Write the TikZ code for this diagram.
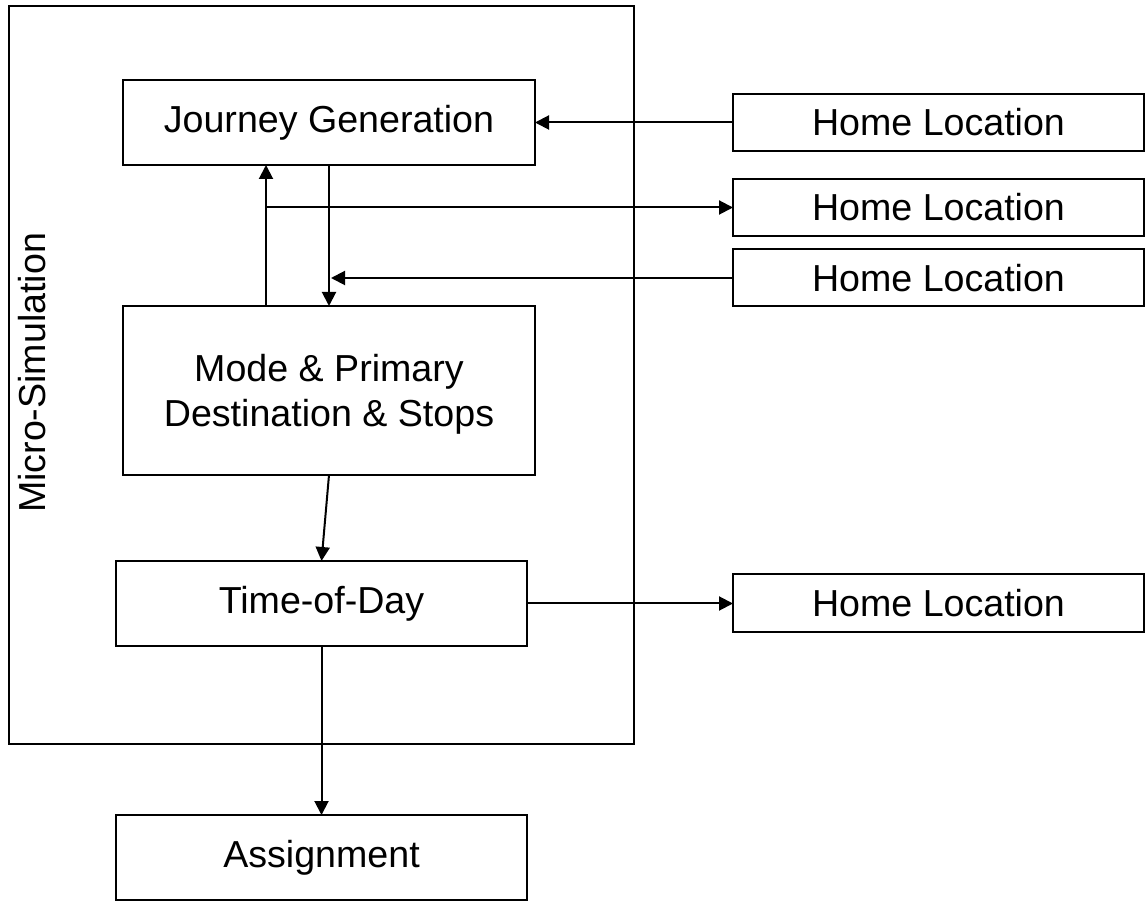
\documentclass[tikz,border=0pt]{standalone}
\usepackage{fontspec}
\setmainfont{Liberation Sans}
\usetikzlibrary{arrows.meta,calc}

\begin{document}
\begin{tikzpicture}[x=0.5pt,y=0.5pt,
  every node/.style={font=\fontsize{18.8pt}{22.5pt}\selectfont, inner sep=0pt, outer sep=0pt},
  box/.style={draw=black, line width=1pt, align=center, fill=white},
  stagebox/.style={box, minimum width=206pt, minimum height=42.5pt},
  homebox/.style={box, minimum width=205.5pt, minimum height=28.5pt},
  link/.style={draw=black, line width=1pt, -{Triangle[length=7pt,width=7pt]}}]

\useasboundingbox (0,0) rectangle (1145,900);

% Micro-simulation frame and its label
\node[draw=black, line width=1pt, minimum width=312.5pt, minimum height=369pt] (sim) at (321.5,525) {};
\node[rotate=90] (simlabel) at (32,527) {Micro-Simulation};

% Model stages
\node[stagebox] (jg) at (329,777.5) {Journey Generation};
\node[stagebox, minimum height=84.5pt, text depth=0pt] (mode) at (329,509.5) {Mode \& Primary\\Destination \& Stops};
\node[stagebox, minimum width=205.5pt] (tod) at (321.5,296.5) {Time-of-Day};
\node[stagebox, minimum width=205.5pt] (assign) at (321.5,42.5) {Assignment};

% Inputs and outputs on the right
\node[homebox] (home1) at (938.5,777.5) {Home Location};
\node[homebox] (home2) at (938.5,692.5) {Home Location};
\node[homebox] (home3) at (938.5,622) {Home Location};
\node[homebox] (home4) at (938.5,297) {Home Location};

% Helper column for the feedback lines
\coordinate (upx) at (266,0);
\coordinate (split) at (upx |- home2.west);

% Connectors
\draw[link] (home1.west) -- (home1.west -| jg.east);
\draw[link] (upx |- mode.north) -- (upx |- jg.south);
\draw[link] (split) -- (home2.west);
\draw[link] (jg.south) -- (mode.north);
\draw[link, shorten >=1pt] (home3.west) -- (jg.south |- home3.west);
\draw[link] (mode.south) -- (tod.north);
\draw[link] (tod.east) -- (tod.east -| home4.west);
\draw[link] (tod.south) -- (assign.north);
\end{tikzpicture}
\end{document}
